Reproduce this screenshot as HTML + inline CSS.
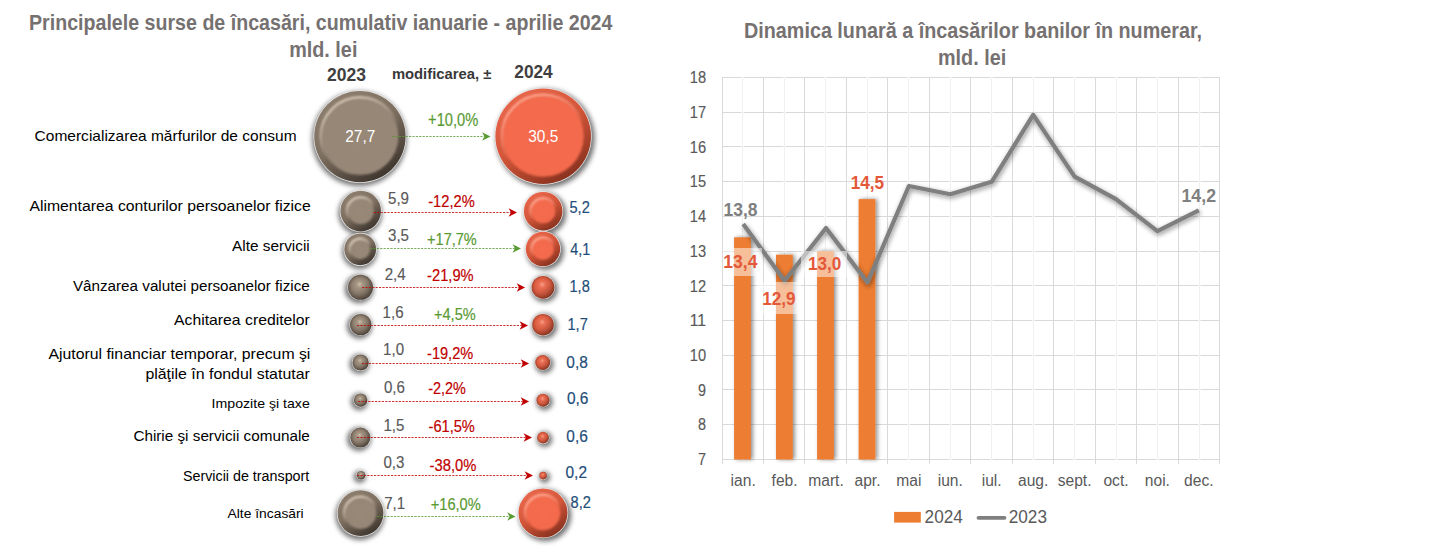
<!DOCTYPE html><html><head><meta charset="utf-8"><style>html,body{margin:0;padding:0;background:#fff;overflow:hidden}svg{display:block}</style></head><body><svg width="1434" height="551" viewBox="0 0 1434 551" font-family='"Liberation Sans", sans-serif'>
<defs>
 <filter id="shb" x="-50%" y="-50%" width="200%" height="200%"><feGaussianBlur stdDeviation="2.4"/></filter>
 <filter id="bl1" x="-50%" y="-50%" width="200%" height="200%"><feGaussianBlur stdDeviation="1.0"/></filter>
 <filter id="bl05" x="-50%" y="-50%" width="200%" height="200%"><feGaussianBlur stdDeviation="0.6"/></filter>
 <filter id="lsh" x="-10%" y="-10%" width="120%" height="130%"><feGaussianBlur in="SourceAlpha" stdDeviation="2.4"/><feOffset dx="0.6" dy="2.2" result="o"/><feComponentTransfer><feFuncA type="linear" slope="0.45"/></feComponentTransfer><feMerge><feMergeNode/><feMergeNode in="SourceGraphic"/></feMerge></filter>
 <filter id="bsh" x="-50%" y="-5%" width="200%" height="110%"><feGaussianBlur in="SourceAlpha" stdDeviation="2.2"/><feOffset dx="1.5" dy="0" result="o"/><feComponentTransfer><feFuncA type="linear" slope="0.45"/></feComponentTransfer><feMerge><feMergeNode/><feMergeNode in="SourceGraphic"/></feMerge></filter>
 <linearGradient id="rimB" x1="0.25" y1="0.05" x2="0.8" y2="0.95"><stop offset="0" stop-color="#8c7d6d"/><stop offset="0.45" stop-color="#7d6f60"/><stop offset="1" stop-color="#3a322b"/></linearGradient>
 <linearGradient id="rimR" x1="0.25" y1="0.05" x2="0.8" y2="0.95"><stop offset="0" stop-color="#e8664b"/><stop offset="0.45" stop-color="#d45639"/><stop offset="1" stop-color="#84301e"/></linearGradient>
 <radialGradient id="flatB"><stop offset="0" stop-color="#978878"/><stop offset="1" stop-color="#968777"/></radialGradient>
 <radialGradient id="flatR"><stop offset="0" stop-color="#f46b4e"/><stop offset="1" stop-color="#f36a4d"/></radialGradient>
 <linearGradient id="hlB" x1="0.3" y1="0.1" x2="0.7" y2="0.9"><stop offset="0" stop-color="#d2c4b1" stop-opacity="1"/><stop offset="0.3" stop-color="#c0b19e" stop-opacity="0.7"/><stop offset="0.6" stop-color="#b0a190" stop-opacity="0"/><stop offset="1" stop-color="#b0a190" stop-opacity="0"/></linearGradient>
 <linearGradient id="hlR" x1="0.3" y1="0.1" x2="0.7" y2="0.9"><stop offset="0" stop-color="#ffa58e" stop-opacity="1"/><stop offset="0.3" stop-color="#fb9078" stop-opacity="0.7"/><stop offset="0.6" stop-color="#f58a70" stop-opacity="0"/><stop offset="1" stop-color="#f58a70" stop-opacity="0"/></linearGradient>
 <radialGradient id="sphB" cx="0.5" cy="0.5" r="0.55" fx="0.46" fy="0.36"><stop offset="0" stop-color="#d2c2ad"/><stop offset="0.25" stop-color="#a99987"/><stop offset="0.6" stop-color="#918272"/><stop offset="0.85" stop-color="#6c5f52"/><stop offset="1" stop-color="#483e35"/></radialGradient>
 <radialGradient id="sphR" cx="0.5" cy="0.5" r="0.55" fx="0.46" fy="0.36"><stop offset="0" stop-color="#ffa58c"/><stop offset="0.25" stop-color="#f27256"/><stop offset="0.6" stop-color="#e06044"/><stop offset="0.85" stop-color="#b84a30"/><stop offset="1" stop-color="#7e2d1c"/></radialGradient>
 <linearGradient id="drk" x1="0.2" y1="0.15" x2="0.85" y2="0.9"><stop offset="0" stop-color="#000" stop-opacity="0"/><stop offset="0.5" stop-color="#000" stop-opacity="0.05"/><stop offset="1" stop-color="#000" stop-opacity="0.25"/></linearGradient>
 <marker id="arR" viewBox="0 0 10 10" refX="9" refY="5" markerWidth="8" markerHeight="8" markerUnits="userSpaceOnUse" orient="auto"><path d="M0,0 L10,5 L0,10 L3,5 Z" fill="#c00000"/></marker>
 <marker id="arG" viewBox="0 0 10 10" refX="9" refY="5" markerWidth="8" markerHeight="8" markerUnits="userSpaceOnUse" orient="auto"><path d="M0,0 L10,5 L0,10 L3,5 Z" fill="#5a9a33"/></marker>
</defs>
<rect width="1434" height="551" fill="#fff"/><text x="29.0" y="29.9" font-size="21.98" font-weight="bold" fill="#767171" textLength="583.4" lengthAdjust="spacingAndGlyphs">Principalele surse de încasări, cumulativ ianuarie - aprilie 2024</text>
<text x="289.2" y="56.8" font-size="21.98" font-weight="bold" fill="#767171" textLength="68.2" lengthAdjust="spacingAndGlyphs">mld. lei</text>
<text x="326.9" y="80.6" font-size="18.63" font-weight="bold" fill="#3f3f3f" textLength="39.0" lengthAdjust="spacingAndGlyphs">2023</text>
<text x="391.9" y="78.5" font-size="14.35" font-weight="bold" fill="#383838" textLength="99.4" lengthAdjust="spacingAndGlyphs">modificarea, ±</text>
<text x="514.3" y="77.6" font-size="18.32" font-weight="bold" fill="#3f3f3f" textLength="38.4" lengthAdjust="spacingAndGlyphs">2024</text>
<text x="34.6" y="141.2" font-size="15.21" font-weight="normal" fill="#000000" textLength="262.0" lengthAdjust="spacingAndGlyphs">Comercializarea mărfurilor de consum</text>
<text x="29.4" y="210.8" font-size="15.50" font-weight="normal" fill="#000000" textLength="281.4" lengthAdjust="spacingAndGlyphs">Alimentarea conturilor persoanelor fizice</text>
<text x="232.0" y="250.9" font-size="15.50" font-weight="normal" fill="#000000" textLength="77.8" lengthAdjust="spacingAndGlyphs">Alte servicii</text>
<text x="72.9" y="290.9" font-size="14.93" font-weight="normal" fill="#000000" textLength="236.9" lengthAdjust="spacingAndGlyphs">Vânzarea valutei persoanelor fizice</text>
<text x="174.1" y="325.4" font-size="15.21" font-weight="normal" fill="#000000" textLength="135.7" lengthAdjust="spacingAndGlyphs">Achitarea creditelor</text>
<text x="48.4" y="358.9" font-size="14.78" font-weight="normal" fill="#000000" textLength="262.0" lengthAdjust="spacingAndGlyphs">Ajutorul financiar temporar, precum şi</text>
<text x="145.4" y="379.3" font-size="14.78" font-weight="normal" fill="#000000" textLength="164.4" lengthAdjust="spacingAndGlyphs">plăţile în fondul statutar</text>
<text x="211.6" y="407.8" font-size="13.20" font-weight="normal" fill="#000000" textLength="98.2" lengthAdjust="spacingAndGlyphs">Impozite şi taxe</text>
<text x="133.4" y="440.8" font-size="14.93" font-weight="normal" fill="#000000" textLength="176.4" lengthAdjust="spacingAndGlyphs">Chirie şi servicii comunale</text>
<text x="182.9" y="480.8" font-size="14.35" font-weight="normal" fill="#000000" textLength="126.4" lengthAdjust="spacingAndGlyphs">Servicii de transport</text>
<text x="227.5" y="517.5" font-size="13.06" font-weight="normal" fill="#000000" textLength="76.2" lengthAdjust="spacingAndGlyphs">Alte încasări</text>
<circle cx="359.40" cy="138.80" r="47.30" fill="rgba(0,0,0,0.55)" filter="url(#shb)"/>
<circle cx="359.90" cy="136.60" r="46.40" fill="#ebebeb"/>
<circle cx="359.90" cy="136.60" r="45.70" fill="url(#rimB)"/>
<circle cx="359.90" cy="136.60" r="38.50" fill="url(#flatB)" style="filter:blur(0.90px)"/>
<circle cx="359.90" cy="136.60" r="39.28" fill="none" stroke="url(#hlB)" stroke-width="2.60" style="filter:blur(0.81px)"/>
<circle cx="545.40" cy="138.40" r="49.40" fill="rgba(0,0,0,0.55)" filter="url(#shb)"/>
<circle cx="543.20" cy="136.20" r="48.50" fill="#ebebeb"/>
<circle cx="543.20" cy="136.20" r="47.80" fill="url(#rimR)"/>
<circle cx="543.20" cy="136.20" r="40.60" fill="url(#flatR)" style="filter:blur(0.90px)"/>
<circle cx="543.20" cy="136.20" r="41.38" fill="none" stroke="url(#hlR)" stroke-width="2.60" style="filter:blur(0.81px)"/>
<circle cx="360.20" cy="213.30" r="21.90" fill="rgba(0,0,0,0.55)" filter="url(#shb)"/>
<circle cx="360.70" cy="211.10" r="21.00" fill="#ebebeb"/>
<circle cx="360.70" cy="211.10" r="20.30" fill="url(#rimB)"/>
<circle cx="360.70" cy="211.10" r="13.10" fill="url(#flatB)" style="filter:blur(0.90px)"/>
<circle cx="360.70" cy="211.10" r="13.88" fill="none" stroke="url(#hlB)" stroke-width="2.60" style="filter:blur(0.81px)"/>
<circle cx="545.40" cy="213.40" r="20.90" fill="rgba(0,0,0,0.55)" filter="url(#shb)"/>
<circle cx="543.20" cy="211.20" r="20.00" fill="#ebebeb"/>
<circle cx="543.20" cy="211.20" r="19.30" fill="url(#rimR)"/>
<circle cx="543.20" cy="211.20" r="12.10" fill="url(#flatR)" style="filter:blur(0.90px)"/>
<circle cx="543.20" cy="211.20" r="12.88" fill="none" stroke="url(#hlR)" stroke-width="2.60" style="filter:blur(0.81px)"/>
<circle cx="359.70" cy="251.50" r="17.50" fill="rgba(0,0,0,0.55)" filter="url(#shb)"/>
<circle cx="360.20" cy="249.30" r="16.60" fill="#ebebeb"/>
<circle cx="360.20" cy="249.30" r="15.90" fill="url(#rimB)"/>
<circle cx="360.20" cy="249.30" r="9.92" fill="url(#flatB)" style="filter:blur(0.90px)"/>
<circle cx="360.20" cy="249.30" r="10.70" fill="none" stroke="url(#hlB)" stroke-width="2.60" style="filter:blur(0.81px)"/>
<circle cx="545.20" cy="251.20" r="18.80" fill="rgba(0,0,0,0.55)" filter="url(#shb)"/>
<circle cx="543.00" cy="249.00" r="17.90" fill="#ebebeb"/>
<circle cx="543.00" cy="249.00" r="17.20" fill="url(#rimR)"/>
<circle cx="543.00" cy="249.00" r="10.76" fill="url(#flatR)" style="filter:blur(0.90px)"/>
<circle cx="543.00" cy="249.00" r="11.54" fill="none" stroke="url(#hlR)" stroke-width="2.60" style="filter:blur(0.81px)"/>
<circle cx="359.20" cy="288.90" r="14.40" fill="rgba(0,0,0,0.55)" filter="url(#shb)"/>
<circle cx="360.50" cy="287.30" r="13.10" fill="#dcdcdc"/>
<circle cx="360.50" cy="287.30" r="12.50" fill="url(#sphB)"/>
<circle cx="360.50" cy="287.30" r="12.50" fill="url(#drk)"/>
<circle cx="544.50" cy="288.90" r="13.30" fill="rgba(0,0,0,0.55)" filter="url(#shb)"/>
<circle cx="543.00" cy="287.30" r="12.00" fill="#dcdcdc"/>
<circle cx="543.00" cy="287.30" r="11.40" fill="url(#sphR)"/>
<circle cx="543.00" cy="287.30" r="11.40" fill="url(#drk)"/>
<circle cx="359.40" cy="326.20" r="12.60" fill="rgba(0,0,0,0.55)" filter="url(#shb)"/>
<circle cx="360.70" cy="324.60" r="11.30" fill="#dcdcdc"/>
<circle cx="360.70" cy="324.60" r="10.70" fill="url(#sphB)"/>
<circle cx="360.70" cy="324.60" r="10.70" fill="url(#drk)"/>
<circle cx="544.50" cy="326.30" r="12.70" fill="rgba(0,0,0,0.55)" filter="url(#shb)"/>
<circle cx="543.00" cy="324.70" r="11.40" fill="#dcdcdc"/>
<circle cx="543.00" cy="324.70" r="10.80" fill="url(#sphR)"/>
<circle cx="543.00" cy="324.70" r="10.80" fill="url(#drk)"/>
<circle cx="359.30" cy="364.10" r="10.00" fill="rgba(0,0,0,0.55)" filter="url(#shb)"/>
<circle cx="360.60" cy="362.50" r="8.70" fill="#dcdcdc"/>
<circle cx="360.60" cy="362.50" r="8.10" fill="url(#sphB)"/>
<circle cx="360.60" cy="362.50" r="8.10" fill="url(#drk)"/>
<circle cx="544.20" cy="364.10" r="9.40" fill="rgba(0,0,0,0.55)" filter="url(#shb)"/>
<circle cx="542.70" cy="362.50" r="8.10" fill="#dcdcdc"/>
<circle cx="542.70" cy="362.50" r="7.50" fill="url(#sphR)"/>
<circle cx="542.70" cy="362.50" r="7.50" fill="url(#drk)"/>
<circle cx="359.30" cy="401.70" r="8.60" fill="rgba(0,0,0,0.55)" filter="url(#shb)"/>
<circle cx="360.60" cy="400.10" r="7.30" fill="#dcdcdc"/>
<circle cx="360.60" cy="400.10" r="6.70" fill="url(#sphB)"/>
<circle cx="360.60" cy="400.10" r="6.70" fill="url(#drk)"/>
<circle cx="544.50" cy="401.80" r="8.40" fill="rgba(0,0,0,0.55)" filter="url(#shb)"/>
<circle cx="543.00" cy="400.20" r="7.10" fill="#dcdcdc"/>
<circle cx="543.00" cy="400.20" r="6.50" fill="url(#sphR)"/>
<circle cx="543.00" cy="400.20" r="6.50" fill="url(#drk)"/>
<circle cx="359.00" cy="439.20" r="11.90" fill="rgba(0,0,0,0.55)" filter="url(#shb)"/>
<circle cx="360.30" cy="437.60" r="10.60" fill="#dcdcdc"/>
<circle cx="360.30" cy="437.60" r="10.00" fill="url(#sphB)"/>
<circle cx="360.30" cy="437.60" r="10.00" fill="url(#drk)"/>
<circle cx="544.50" cy="439.30" r="7.80" fill="rgba(0,0,0,0.55)" filter="url(#shb)"/>
<circle cx="543.00" cy="437.70" r="6.50" fill="#dcdcdc"/>
<circle cx="543.00" cy="437.70" r="5.90" fill="url(#sphR)"/>
<circle cx="543.00" cy="437.70" r="5.90" fill="url(#drk)"/>
<circle cx="359.70" cy="476.80" r="6.20" fill="rgba(0,0,0,0.55)" filter="url(#shb)"/>
<circle cx="361.00" cy="475.20" r="4.90" fill="#dcdcdc"/>
<circle cx="361.00" cy="475.20" r="4.30" fill="url(#sphB)"/>
<circle cx="361.00" cy="475.20" r="4.30" fill="url(#drk)"/>
<circle cx="544.60" cy="477.20" r="5.70" fill="rgba(0,0,0,0.55)" filter="url(#shb)"/>
<circle cx="543.10" cy="475.60" r="4.40" fill="#dcdcdc"/>
<circle cx="543.10" cy="475.60" r="3.80" fill="url(#sphR)"/>
<circle cx="543.10" cy="475.60" r="3.80" fill="url(#drk)"/>
<circle cx="360.00" cy="515.40" r="24.50" fill="rgba(0,0,0,0.55)" filter="url(#shb)"/>
<circle cx="360.50" cy="513.20" r="23.60" fill="#ebebeb"/>
<circle cx="360.50" cy="513.20" r="22.90" fill="url(#rimB)"/>
<circle cx="360.50" cy="513.20" r="15.70" fill="url(#flatB)" style="filter:blur(0.90px)"/>
<circle cx="360.50" cy="513.20" r="16.48" fill="none" stroke="url(#hlB)" stroke-width="2.60" style="filter:blur(0.81px)"/>
<circle cx="545.20" cy="515.20" r="26.10" fill="rgba(0,0,0,0.55)" filter="url(#shb)"/>
<circle cx="543.00" cy="513.00" r="25.20" fill="#ebebeb"/>
<circle cx="543.00" cy="513.00" r="24.50" fill="url(#rimR)"/>
<circle cx="543.00" cy="513.00" r="17.30" fill="url(#flatR)" style="filter:blur(0.90px)"/>
<circle cx="543.00" cy="513.00" r="18.08" fill="none" stroke="url(#hlR)" stroke-width="2.60" style="filter:blur(0.81px)"/>
<line x1="392" y1="136.5" x2="484.5" y2="136.5" stroke="#5a9a33" stroke-width="1.1" stroke-dasharray="2.2 1.2" opacity="0.8"/>
<path d="M490.5,136.5 L482.1,132.3 L484.4,136.5 L482.1,140.7 Z" fill="#5a9a33"/>
<text x="428.1" y="125.9" font-size="17.64" font-weight="normal" fill="#5a9a33" stroke="#5a9a33" stroke-width="0.2" textLength="50.1" lengthAdjust="spacingAndGlyphs">+10,0%</text>
<line x1="373.8" y1="212.5" x2="511" y2="212.5" stroke="#c00000" stroke-width="1.1" stroke-dasharray="2.2 1.2" opacity="0.8"/>
<path d="M517.0,212.5 L508.6,208.3 L510.9,212.5 L508.6,216.7 Z" fill="#c00000"/>
<text x="428.2" y="206.8" font-size="16.64" font-weight="normal" fill="#c00000" stroke="#c00000" stroke-width="0.2" textLength="46.5" lengthAdjust="spacingAndGlyphs">-12,2%</text>
<text x="388.0" y="203.8" font-size="16.34" font-weight="normal" fill="#595959" stroke="#595959" stroke-width="0.15" textLength="21.0" lengthAdjust="spacingAndGlyphs">5,9</text>
<text x="569.5" y="212.5" font-size="16.79" font-weight="normal" fill="#1f4e79" stroke="#1f4e79" stroke-width="0.2" textLength="20.3" lengthAdjust="spacingAndGlyphs">5,2</text>
<line x1="370" y1="248.5" x2="515" y2="248.5" stroke="#5a9a33" stroke-width="1.1" stroke-dasharray="2.2 1.2" opacity="0.8"/>
<path d="M521.0,248.5 L512.6,244.3 L514.9,248.5 L512.6,252.7 Z" fill="#5a9a33"/>
<text x="427.1" y="244.6" font-size="16.64" font-weight="normal" fill="#5a9a33" stroke="#5a9a33" stroke-width="0.2" textLength="49.7" lengthAdjust="spacingAndGlyphs">+17,7%</text>
<text x="388.0" y="241.4" font-size="16.34" font-weight="normal" fill="#595959" stroke="#595959" stroke-width="0.15" textLength="21.0" lengthAdjust="spacingAndGlyphs">3,5</text>
<text x="570.3" y="254.9" font-size="16.79" font-weight="normal" fill="#1f4e79" stroke="#1f4e79" stroke-width="0.2" textLength="20.0" lengthAdjust="spacingAndGlyphs">4,1</text>
<line x1="362" y1="287.5" x2="519.1" y2="287.5" stroke="#c00000" stroke-width="1.1" stroke-dasharray="2.2 1.2" opacity="0.8"/>
<path d="M525.1,287.5 L516.7,283.3 L519.0,287.5 L516.7,291.7 Z" fill="#c00000"/>
<text x="427.1" y="281.1" font-size="16.64" font-weight="normal" fill="#c00000" stroke="#c00000" stroke-width="0.2" textLength="46.6" lengthAdjust="spacingAndGlyphs">-21,9%</text>
<text x="384.7" y="280.0" font-size="16.34" font-weight="normal" fill="#595959" stroke="#595959" stroke-width="0.15" textLength="21.0" lengthAdjust="spacingAndGlyphs">2,4</text>
<text x="569.5" y="291.6" font-size="16.79" font-weight="normal" fill="#1f4e79" stroke="#1f4e79" stroke-width="0.2" textLength="20.3" lengthAdjust="spacingAndGlyphs">1,8</text>
<line x1="357" y1="325.5" x2="522" y2="325.5" stroke="#c00000" stroke-width="1.1" stroke-dasharray="2.2 1.2" opacity="0.8"/>
<path d="M528.0,325.5 L519.6,321.3 L521.9,325.5 L519.6,329.7 Z" fill="#c00000"/>
<text x="434.0" y="319.6" font-size="16.64" font-weight="normal" fill="#5a9a33" stroke="#5a9a33" stroke-width="0.2" textLength="41.7" lengthAdjust="spacingAndGlyphs">+4,5%</text>
<text x="382.6" y="317.6" font-size="16.34" font-weight="normal" fill="#595959" stroke="#595959" stroke-width="0.15" textLength="21.0" lengthAdjust="spacingAndGlyphs">1,6</text>
<text x="567.5" y="329.5" font-size="16.79" font-weight="normal" fill="#1f4e79" stroke="#1f4e79" stroke-width="0.2" textLength="20.3" lengthAdjust="spacingAndGlyphs">1,7</text>
<line x1="362" y1="363.5" x2="523.1" y2="363.5" stroke="#c00000" stroke-width="1.1" stroke-dasharray="2.2 1.2" opacity="0.8"/>
<path d="M529.1,363.5 L520.7,359.3 L523.0,363.5 L520.7,367.7 Z" fill="#c00000"/>
<text x="427.1" y="358.5" font-size="16.64" font-weight="normal" fill="#c00000" stroke="#c00000" stroke-width="0.2" textLength="46.1" lengthAdjust="spacingAndGlyphs">-19,2%</text>
<text x="383.1" y="355.0" font-size="16.34" font-weight="normal" fill="#595959" stroke="#595959" stroke-width="0.15" textLength="21.0" lengthAdjust="spacingAndGlyphs">1,0</text>
<text x="566.3" y="367.8" font-size="16.79" font-weight="normal" fill="#1f4e79" stroke="#1f4e79" stroke-width="0.2" textLength="21.5" lengthAdjust="spacingAndGlyphs">0,8</text>
<line x1="358" y1="401.5" x2="523.1" y2="401.5" stroke="#c00000" stroke-width="1.1" stroke-dasharray="2.2 1.2" opacity="0.8"/>
<path d="M529.1,401.5 L520.7,397.3 L523.0,401.5 L520.7,405.7 Z" fill="#c00000"/>
<text x="428.2" y="393.8" font-size="16.64" font-weight="normal" fill="#c00000" stroke="#c00000" stroke-width="0.2" textLength="37.7" lengthAdjust="spacingAndGlyphs">-2,2%</text>
<text x="383.9" y="392.6" font-size="16.34" font-weight="normal" fill="#595959" stroke="#595959" stroke-width="0.15" textLength="21.0" lengthAdjust="spacingAndGlyphs">0,6</text>
<text x="566.9" y="403.9" font-size="16.79" font-weight="normal" fill="#1f4e79" stroke="#1f4e79" stroke-width="0.2" textLength="21.5" lengthAdjust="spacingAndGlyphs">0,6</text>
<line x1="357" y1="437.5" x2="526" y2="437.5" stroke="#c00000" stroke-width="1.1" stroke-dasharray="2.2 1.2" opacity="0.8"/>
<path d="M532.0,437.5 L523.6,433.3 L525.9,437.5 L523.6,441.7 Z" fill="#c00000"/>
<text x="428.5" y="431.8" font-size="16.64" font-weight="normal" fill="#c00000" stroke="#c00000" stroke-width="0.2" textLength="46.4" lengthAdjust="spacingAndGlyphs">-61,5%</text>
<text x="383.4" y="430.5" font-size="16.34" font-weight="normal" fill="#595959" stroke="#595959" stroke-width="0.15" textLength="21.0" lengthAdjust="spacingAndGlyphs">1,5</text>
<text x="566.3" y="441.9" font-size="16.79" font-weight="normal" fill="#1f4e79" stroke="#1f4e79" stroke-width="0.2" textLength="21.5" lengthAdjust="spacingAndGlyphs">0,6</text>
<line x1="357" y1="475.5" x2="527" y2="475.5" stroke="#c00000" stroke-width="1.1" stroke-dasharray="2.2 1.2" opacity="0.8"/>
<path d="M533.0,475.5 L524.6,471.3 L526.9,475.5 L524.6,479.7 Z" fill="#c00000"/>
<text x="429.6" y="470.5" font-size="16.64" font-weight="normal" fill="#c00000" stroke="#c00000" stroke-width="0.2" textLength="46.8" lengthAdjust="spacingAndGlyphs">-38,0%</text>
<text x="383.4" y="467.6" font-size="16.34" font-weight="normal" fill="#595959" stroke="#595959" stroke-width="0.15" textLength="21.0" lengthAdjust="spacingAndGlyphs">0,3</text>
<text x="565.5" y="477.8" font-size="16.79" font-weight="normal" fill="#1f4e79" stroke="#1f4e79" stroke-width="0.2" textLength="21.5" lengthAdjust="spacingAndGlyphs">0,2</text>
<line x1="377" y1="516.5" x2="509.6" y2="516.5" stroke="#5a9a33" stroke-width="1.1" stroke-dasharray="2.2 1.2" opacity="0.8"/>
<path d="M515.6,516.5 L507.2,512.3 L509.5,516.5 L507.2,520.7 Z" fill="#5a9a33"/>
<text x="430.7" y="509.7" font-size="16.64" font-weight="normal" fill="#5a9a33" stroke="#5a9a33" stroke-width="0.2" textLength="50.1" lengthAdjust="spacingAndGlyphs">+16,0%</text>
<text x="384.2" y="508.5" font-size="16.34" font-weight="normal" fill="#595959" stroke="#595959" stroke-width="0.15" textLength="21.0" lengthAdjust="spacingAndGlyphs">7,1</text>
<text x="570.6" y="507.9" font-size="16.79" font-weight="normal" fill="#1f4e79" stroke="#1f4e79" stroke-width="0.2" textLength="20.3" lengthAdjust="spacingAndGlyphs">8,2</text>
<text x="345.3" y="141.6" font-size="17.10" font-weight="normal" fill="#ffffff" textLength="30.0" lengthAdjust="spacingAndGlyphs">27,7</text>
<text x="528.3" y="141.6" font-size="17.10" font-weight="normal" fill="#ffffff" textLength="30.0" lengthAdjust="spacingAndGlyphs">30,5</text>
<text x="744.0" y="37.9" font-size="21.98" font-weight="bold" fill="#767171" textLength="458.0" lengthAdjust="spacingAndGlyphs">Dinamica lunară a încasărilor banilor în numerar,</text>
<text x="938.0" y="64.6" font-size="21.98" font-weight="bold" fill="#767171" textLength="68.2" lengthAdjust="spacingAndGlyphs">mld. lei</text>
<line x1="722" y1="459.5" x2="1220" y2="459.5" stroke="#d9d9d9" stroke-width="1"/>
<line x1="722" y1="424.5" x2="1220" y2="424.5" stroke="#d9d9d9" stroke-width="1"/>
<line x1="722" y1="389.5" x2="1220" y2="389.5" stroke="#d9d9d9" stroke-width="1"/>
<line x1="722" y1="355.5" x2="1220" y2="355.5" stroke="#d9d9d9" stroke-width="1"/>
<line x1="722" y1="320.5" x2="1220" y2="320.5" stroke="#d9d9d9" stroke-width="1"/>
<line x1="722" y1="285.5" x2="1220" y2="285.5" stroke="#d9d9d9" stroke-width="1"/>
<line x1="722" y1="251.5" x2="1220" y2="251.5" stroke="#d9d9d9" stroke-width="1"/>
<line x1="722" y1="216.5" x2="1220" y2="216.5" stroke="#d9d9d9" stroke-width="1"/>
<line x1="722" y1="181.5" x2="1220" y2="181.5" stroke="#d9d9d9" stroke-width="1"/>
<line x1="722" y1="146.5" x2="1220" y2="146.5" stroke="#d9d9d9" stroke-width="1"/>
<line x1="722" y1="112.5" x2="1220" y2="112.5" stroke="#d9d9d9" stroke-width="1"/>
<line x1="722" y1="77.5" x2="1220" y2="77.5" stroke="#d9d9d9" stroke-width="1"/>
<line x1="742.5" y1="77.0" x2="742.5" y2="460.0" stroke="#fff" stroke-width="2"/>
<line x1="742.5" y1="77.0" x2="742.5" y2="460.0" stroke="#f0f0f0" stroke-width="1"/>
<line x1="784.5" y1="77.0" x2="784.5" y2="460.0" stroke="#fff" stroke-width="2"/>
<line x1="784.5" y1="77.0" x2="784.5" y2="460.0" stroke="#f0f0f0" stroke-width="1"/>
<line x1="825.5" y1="77.0" x2="825.5" y2="460.0" stroke="#fff" stroke-width="2"/>
<line x1="825.5" y1="77.0" x2="825.5" y2="460.0" stroke="#f0f0f0" stroke-width="1"/>
<line x1="867.5" y1="77.0" x2="867.5" y2="460.0" stroke="#fff" stroke-width="2"/>
<line x1="867.5" y1="77.0" x2="867.5" y2="460.0" stroke="#f0f0f0" stroke-width="1"/>
<line x1="908.5" y1="77.0" x2="908.5" y2="460.0" stroke="#fff" stroke-width="2"/>
<line x1="908.5" y1="77.0" x2="908.5" y2="460.0" stroke="#f0f0f0" stroke-width="1"/>
<line x1="950.5" y1="77.0" x2="950.5" y2="460.0" stroke="#fff" stroke-width="2"/>
<line x1="950.5" y1="77.0" x2="950.5" y2="460.0" stroke="#f0f0f0" stroke-width="1"/>
<line x1="991.5" y1="77.0" x2="991.5" y2="460.0" stroke="#fff" stroke-width="2"/>
<line x1="991.5" y1="77.0" x2="991.5" y2="460.0" stroke="#f0f0f0" stroke-width="1"/>
<line x1="1033.5" y1="77.0" x2="1033.5" y2="460.0" stroke="#fff" stroke-width="2"/>
<line x1="1033.5" y1="77.0" x2="1033.5" y2="460.0" stroke="#f0f0f0" stroke-width="1"/>
<line x1="1074.5" y1="77.0" x2="1074.5" y2="460.0" stroke="#fff" stroke-width="2"/>
<line x1="1074.5" y1="77.0" x2="1074.5" y2="460.0" stroke="#f0f0f0" stroke-width="1"/>
<line x1="1116.5" y1="77.0" x2="1116.5" y2="460.0" stroke="#fff" stroke-width="2"/>
<line x1="1116.5" y1="77.0" x2="1116.5" y2="460.0" stroke="#f0f0f0" stroke-width="1"/>
<line x1="1157.5" y1="77.0" x2="1157.5" y2="460.0" stroke="#fff" stroke-width="2"/>
<line x1="1157.5" y1="77.0" x2="1157.5" y2="460.0" stroke="#f0f0f0" stroke-width="1"/>
<line x1="1199.5" y1="77.0" x2="1199.5" y2="460.0" stroke="#fff" stroke-width="2"/>
<line x1="1199.5" y1="77.0" x2="1199.5" y2="460.0" stroke="#f0f0f0" stroke-width="1"/>
<line x1="722.5" y1="77.0" x2="722.5" y2="464.0" stroke="#d9d9d9" stroke-width="1"/>
<line x1="763.5" y1="77.0" x2="763.5" y2="464.0" stroke="#d9d9d9" stroke-width="1"/>
<line x1="804.5" y1="77.0" x2="804.5" y2="464.0" stroke="#d9d9d9" stroke-width="1"/>
<line x1="846.5" y1="77.0" x2="846.5" y2="464.0" stroke="#d9d9d9" stroke-width="1"/>
<line x1="887.5" y1="77.0" x2="887.5" y2="464.0" stroke="#d9d9d9" stroke-width="1"/>
<line x1="929.5" y1="77.0" x2="929.5" y2="464.0" stroke="#d9d9d9" stroke-width="1"/>
<line x1="970.5" y1="77.0" x2="970.5" y2="464.0" stroke="#d9d9d9" stroke-width="1"/>
<line x1="1012.5" y1="77.0" x2="1012.5" y2="464.0" stroke="#d9d9d9" stroke-width="1"/>
<line x1="1053.5" y1="77.0" x2="1053.5" y2="464.0" stroke="#d9d9d9" stroke-width="1"/>
<line x1="1095.5" y1="77.0" x2="1095.5" y2="464.0" stroke="#d9d9d9" stroke-width="1"/>
<line x1="1136.5" y1="77.0" x2="1136.5" y2="464.0" stroke="#d9d9d9" stroke-width="1"/>
<line x1="1178.5" y1="77.0" x2="1178.5" y2="464.0" stroke="#d9d9d9" stroke-width="1"/>
<line x1="1219.5" y1="77.0" x2="1219.5" y2="464.0" stroke="#d9d9d9" stroke-width="1"/>
<text x="698.1" y="465.0" font-size="16.79" font-weight="normal" fill="#595959" stroke="#595959" stroke-width="0.15" textLength="8.0" lengthAdjust="spacingAndGlyphs">7</text>
<text x="698.1" y="430.3" font-size="16.79" font-weight="normal" fill="#595959" stroke="#595959" stroke-width="0.15" textLength="8.0" lengthAdjust="spacingAndGlyphs">8</text>
<text x="698.1" y="395.6" font-size="16.79" font-weight="normal" fill="#595959" stroke="#595959" stroke-width="0.15" textLength="8.0" lengthAdjust="spacingAndGlyphs">9</text>
<text x="689.8" y="360.9" font-size="16.79" font-weight="normal" fill="#595959" stroke="#595959" stroke-width="0.15" textLength="16.3" lengthAdjust="spacingAndGlyphs">10</text>
<text x="689.8" y="326.2" font-size="16.79" font-weight="normal" fill="#595959" stroke="#595959" stroke-width="0.15" textLength="16.3" lengthAdjust="spacingAndGlyphs">11</text>
<text x="689.8" y="291.5" font-size="16.79" font-weight="normal" fill="#595959" stroke="#595959" stroke-width="0.15" textLength="16.3" lengthAdjust="spacingAndGlyphs">12</text>
<text x="689.8" y="256.8" font-size="16.79" font-weight="normal" fill="#595959" stroke="#595959" stroke-width="0.15" textLength="16.3" lengthAdjust="spacingAndGlyphs">13</text>
<text x="689.8" y="222.1" font-size="16.79" font-weight="normal" fill="#595959" stroke="#595959" stroke-width="0.15" textLength="16.3" lengthAdjust="spacingAndGlyphs">14</text>
<text x="689.8" y="187.4" font-size="16.79" font-weight="normal" fill="#595959" stroke="#595959" stroke-width="0.15" textLength="16.3" lengthAdjust="spacingAndGlyphs">15</text>
<text x="689.8" y="152.7" font-size="16.79" font-weight="normal" fill="#595959" stroke="#595959" stroke-width="0.15" textLength="16.3" lengthAdjust="spacingAndGlyphs">16</text>
<text x="689.8" y="118.0" font-size="16.79" font-weight="normal" fill="#595959" stroke="#595959" stroke-width="0.15" textLength="16.3" lengthAdjust="spacingAndGlyphs">17</text>
<text x="689.8" y="83.3" font-size="16.79" font-weight="normal" fill="#595959" stroke="#595959" stroke-width="0.15" textLength="16.3" lengthAdjust="spacingAndGlyphs">18</text>
<text x="743.2" y="485.7" font-size="15.6" fill="#595959" text-anchor="middle">ian.</text>
<text x="784.6" y="485.7" font-size="15.6" fill="#595959" text-anchor="middle">feb.</text>
<text x="826.0" y="485.7" font-size="15.6" fill="#595959" text-anchor="middle">mart.</text>
<text x="867.5" y="485.7" font-size="15.6" fill="#595959" text-anchor="middle">apr.</text>
<text x="908.9" y="485.7" font-size="15.6" fill="#595959" text-anchor="middle">mai</text>
<text x="950.3" y="485.7" font-size="15.6" fill="#595959" text-anchor="middle">iun.</text>
<text x="991.7" y="485.7" font-size="15.6" fill="#595959" text-anchor="middle">iul.</text>
<text x="1033.2" y="485.7" font-size="15.6" fill="#595959" text-anchor="middle">aug.</text>
<text x="1074.6" y="485.7" font-size="15.6" fill="#595959" text-anchor="middle">sept.</text>
<text x="1116.0" y="485.7" font-size="15.6" fill="#595959" text-anchor="middle">oct.</text>
<text x="1157.4" y="485.7" font-size="15.6" fill="#595959" text-anchor="middle">noi.</text>
<text x="1198.8" y="485.7" font-size="15.6" fill="#595959" text-anchor="middle">dec.</text>
<g filter="url(#bsh)"><rect x="734.1" y="237.3" width="16.8" height="222.2" fill="#ed7d31"/><rect x="776.0" y="254.7" width="16.8" height="204.8" fill="#ed7d31"/><rect x="817.1" y="251.2" width="16.8" height="208.3" fill="#ed7d31"/><rect x="858.6" y="199.1" width="16.8" height="260.4" fill="#ed7d31"/></g>
<polyline points="743.2,224.1 784.6,280.7 826.0,228.0 867.5,282.4 908.9,186.0 950.3,194.3 991.7,181.8 1033.2,114.8 1074.6,176.6 1116.0,199.1 1157.4,231.1 1198.8,210.3" fill="none" stroke="#7f7f7f" stroke-width="4.2" stroke-linejoin="round" filter="url(#lsh)"/>
<rect x="723" y="248" width="39" height="28" fill="#fff" opacity="0.5"/>
<rect x="757" y="282" width="44" height="32" fill="#fff" opacity="0.5"/>
<rect x="801" y="251" width="46" height="26" fill="#fff" opacity="0.5"/>
<text x="723.3" y="268.3" font-size="18.63" font-weight="bold" fill="#e4583a" textLength="34.1" lengthAdjust="spacingAndGlyphs">13,4</text>
<text x="762.2" y="304.6" font-size="18.63" font-weight="bold" fill="#e4583a" textLength="33.4" lengthAdjust="spacingAndGlyphs">12,9</text>
<text x="807.9" y="269.5" font-size="18.63" font-weight="bold" fill="#e4583a" textLength="33.4" lengthAdjust="spacingAndGlyphs">13,0</text>
<text x="850.7" y="188.9" font-size="18.63" font-weight="bold" fill="#e4583a" textLength="33.5" lengthAdjust="spacingAndGlyphs">14,5</text>
<text x="723.6" y="215.8" font-size="18.63" font-weight="bold" fill="#7f7f7f" textLength="34.0" lengthAdjust="spacingAndGlyphs">13,8</text>
<text x="1181.5" y="202.4" font-size="18.63" font-weight="bold" fill="#7f7f7f" textLength="34.5" lengthAdjust="spacingAndGlyphs">14,2</text>
<rect x="894.1" y="511.9" width="26.7" height="10.7" fill="#ed7d31"/>
<text x="924.6" y="522.6" font-size="18.32" font-weight="normal" fill="#595959" textLength="38.2" lengthAdjust="spacingAndGlyphs">2024</text>
<line x1="978.5" y1="517.8" x2="1004.5" y2="517.8" stroke="#7f7f7f" stroke-width="3.8" stroke-linecap="round"/>
<text x="1008.7" y="522.9" font-size="18.32" font-weight="normal" fill="#595959" textLength="38.3" lengthAdjust="spacingAndGlyphs">2023</text>
</svg></body></html>
